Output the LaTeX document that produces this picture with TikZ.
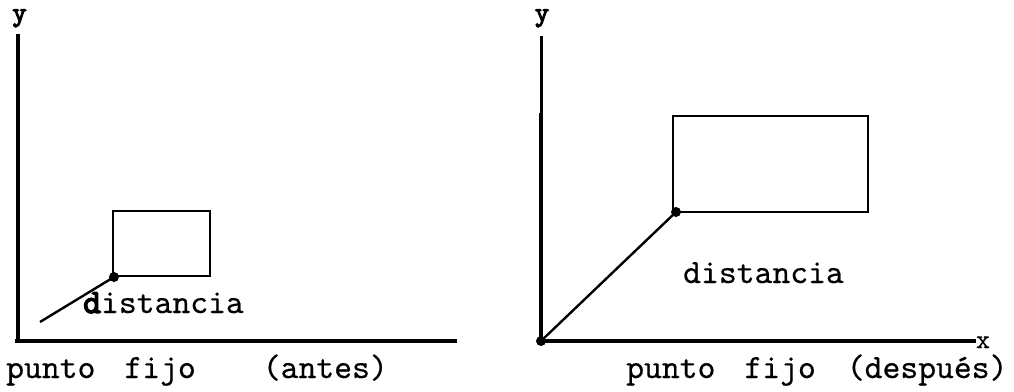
\documentclass[tikz,border=0pt]{standalone}
\usepackage{fontspec}
\setmonofont{lmmono10-regular.otf}[FakeBold=0.4]
\newfontfamily\bmono{lmmono10-regular.otf}[FakeBold=4]
\begin{document}
\begin{tikzpicture}[x=1pt,y=-1pt,
  axis/.style={line width=3.5pt},
  box/.style={draw,line width=2.8pt,minimum width=#1,inner sep=0pt,outer sep=0pt},
  seg/.style={line width=2.4pt},
  txt/.style={font=\ttfamily\fontsize{34}{40}\selectfont,inner sep=0pt,anchor=base west},
  lbl/.style={font=\bmono\fontsize{27}{32}\selectfont,inner sep=0pt,anchor=base},
  dotc/.style={circle,fill,inner sep=0pt,minimum size=10pt}]
\useasboundingbox (0,0) rectangle (1014,391);
% ---- left panel ----
\coordinate (LO) at (18,341);
\coordinate (LYt) at (18,34);
\coordinate (LXs) at (15,341);
\coordinate (LXe) at (457,341);
\draw[axis] (LYt) -- (LO);
\draw[axis] (LXs) -- (LXe);
\node[lbl] (ly) at (19.5,21) {y};
\node[box=97pt,minimum height=65pt] (lrect) at (161.5,243.5) {};
\node[dotc] (ldot) at ([xshift=1pt,yshift=-1pt]lrect.south west) {};
\coordinate (lstart) at (40,322);
\draw[seg] (lstart) -- (ldot.center);
\node[txt] (ldist) at (83,313) {{\bmono d}istancia};
\node[txt] (lcap) at (6,378) {punto\hspace{29pt}fijo\hspace{67pt}(antes)};
% ---- right panel ----
\coordinate (RO) at (541,341);
\coordinate (RYt) at (541,36);
\coordinate (RYm) at (541,113);
\coordinate (RXe) at (976,341);
\draw[line width=3pt] (RYt) -- (RYm);
\draw[line width=3.8pt] (RYm) -- (RO);
\draw[axis] (RO) -- (RXe);
\node[lbl] (ry) at (542,21) {y};
\node[font=\ttfamily\fontsize{27}{32}\selectfont,inner sep=0pt,anchor=base] (rx) at (983,348) {x};
\node[box=195pt,minimum height=96pt] (rrect) at (770.5,164) {};
\node[dotc] (rdot) at ([xshift=3pt]rrect.south west) {};
\node[dotc] (odot) at (RO) {};
\draw[seg] (odot.center) -- (rdot.center);
\node[txt] (rdist) at (683,283) {distancia};
\node[txt] (rcap) at (626,378) {punto\hspace{29pt}fijo\hspace{31pt}(después)};
\end{tikzpicture}
\end{document}
